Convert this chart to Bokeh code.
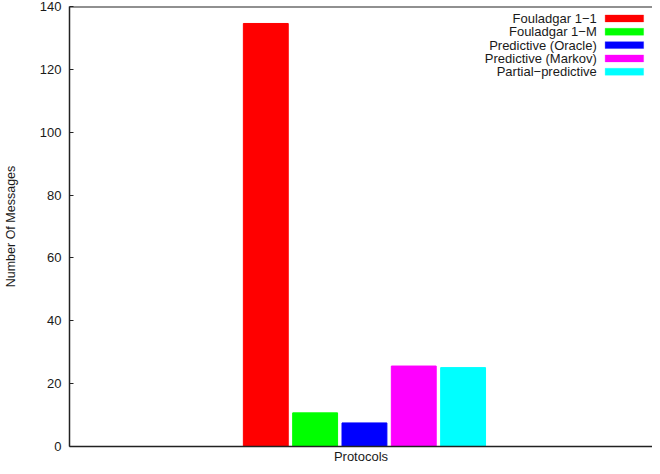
from bokeh.plotting import figure
from bokeh.models import Range1d, FixedTicker, Span, Label, BoxAnnotation
from bokeh.embed import file_html
from bokeh.resources import INLINE

protocols = ["Fouladgar 1\u22121", "Fouladgar 1\u2212M", "Predictive (Oracle)",
             "Predictive (Markov)", "Partial\u2212predictive"]
messages = [134.6, 10.7, 7.5, 25.6, 25.1]
colors = ["#ff0000", "#00ff00", "#0000ff", "#ff00ff", "#00ffff"]
y_ticks = [0, 20, 40, 60, 80, 100, 120, 140]
x_title = "Protocols"
y_title = "Number Of Messages"

FONT = "Liberation Sans"
FS = "13px"
INK = "#1a1a1a"

x0, x1 = -3.98, 7.84
p = figure(width=652, height=466, output_backend="svg", toolbar_location=None,
           x_range=Range1d(x0, x1), y_range=Range1d(0, 140))
p.min_border_left = 64
p.min_border_right = 0
p.min_border_top = 6
p.min_border_bottom = 0
p.outline_line_color = None
p.xgrid.visible = False
p.ygrid.visible = False
p.background_fill_color = "white"
p.border_fill_color = "white"

xs = list(range(len(messages)))
p.vbar(x=xs, top=messages, bottom=0, width=0.91, fill_color=colors,
       line_color=colors, line_width=1)

# axes
p.yaxis.ticker = FixedTicker(ticks=y_ticks)
p.yaxis.minor_tick_line_color = None
p.yaxis.major_tick_in = 4
p.yaxis.major_tick_out = 0
p.yaxis.major_label_standoff = 8
p.yaxis.major_label_text_font = FONT
p.yaxis.major_label_text_font_size = FS
p.yaxis.major_label_text_color = INK
p.yaxis.axis_line_color = "#222222"
p.yaxis.axis_line_width = 1.5
p.yaxis.major_tick_line_color = "#222222"
p.yaxis.axis_label = y_title
p.yaxis.axis_label_text_font = FONT
p.yaxis.axis_label_text_font_style = "normal"
p.yaxis.axis_label_text_font_size = "12.5px"
p.yaxis.axis_label_text_color = INK
p.yaxis.axis_label_standoff = 19

p.xaxis.ticker = FixedTicker(ticks=[])
p.xaxis.minor_tick_line_color = None
p.xaxis.major_tick_line_color = None
p.xaxis.axis_line_color = "#222222"
p.xaxis.axis_line_width = 1.5
p.xaxis.axis_label = x_title
p.xaxis.axis_label_text_font = FONT
p.xaxis.axis_label_text_font_style = "normal"
p.xaxis.axis_label_text_font_size = FS
p.xaxis.axis_label_text_color = INK
p.xaxis.axis_label_standoff = 2

p.add_layout(Span(location=140, dimension="width", line_color="#222222", line_width=2))

# legend: text right-aligned, swatch on the right
row0 = 136.2
step = 4.24
for i, (name, c) in enumerate(zip(protocols, colors)):
    yc = row0 - i * step
    p.add_layout(Label(x=6.71, y=yc, text=name, text_align="right",
                       text_baseline="middle", text_font=FONT,
                       text_font_size=FS, text_color=INK))
    p.add_layout(BoxAnnotation(left=6.88, right=7.66, bottom=yc - 1.1, top=yc + 1.1,
                               fill_color=c, fill_alpha=1.0, line_color=c,
                               line_width=1))

open("out.html", "w").write(file_html(p, INLINE))
